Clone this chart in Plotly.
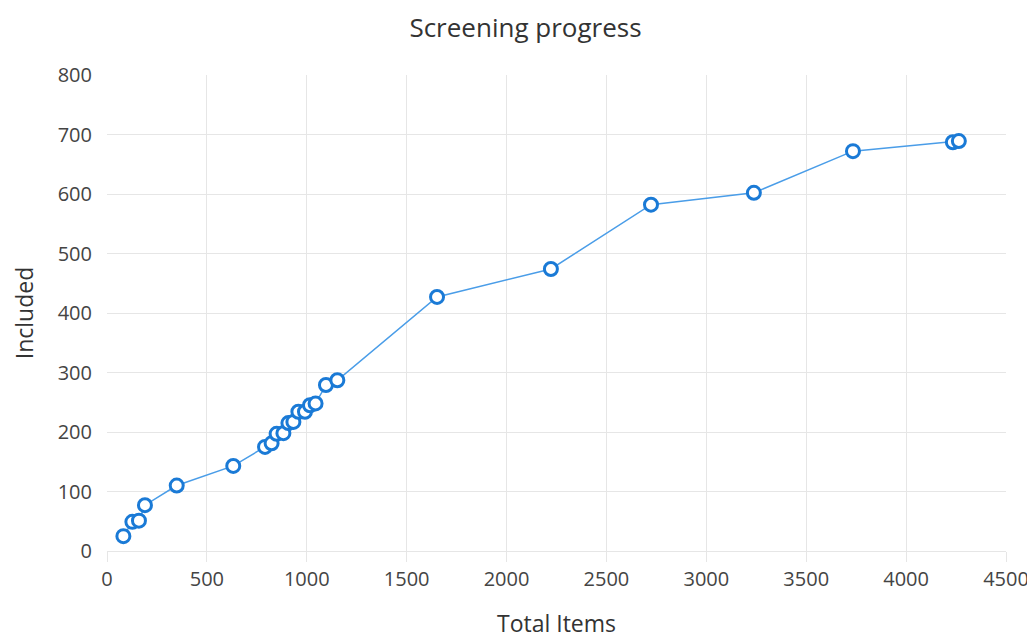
import plotly.graph_objects as go

total_items = [82, 127, 160, 190, 349, 632, 791, 824, 849, 883, 908, 933, 958, 991, 1016, 1044,
               1096, 1153, 1652, 2222, 2723, 3238, 3734, 4234, 4264]
included = [25, 49, 51, 77, 110, 143, 175, 181, 197, 198, 215, 217, 234, 234, 245, 248,
            279, 287, 427, 474, 582, 602, 672, 687, 689]

FONT = "Open Sans, Noto Sans, sans-serif"

fig = go.Figure(go.Scatter(
    x=total_items, y=included, mode="lines+markers",
    line=dict(color="#4a9de8", width=1.5),
    marker=dict(size=13, color="white", line=dict(color="#1a7ad6", width=3)),
    hoverinfo="x+y",
))

fig.update_layout(
    width=1035, height=637,
    margin=dict(l=99, r=37, t=67, b=94),
    paper_bgcolor="white", plot_bgcolor="white",
    title=dict(text="Screening progress", x=0.5, xanchor="center", y=1 - 20 / 637, yanchor="middle",
               font=dict(family=FONT, size=26, color="#333333")),
    font=dict(family=FONT, color="#444444", size=20),
    showlegend=False,
)
fig.update_xaxes(range=[0, 4500], dtick=500, showgrid=True, gridcolor="#e6e6e6", zeroline=False,
                 showline=True, linecolor="#e6e6e6", ticks="outside", ticklen=10, tickcolor="#e6e6e6",
                 title=dict(text="Total Items", font=dict(size=23, color="#333333"), standoff=24),
                 tickfont=dict(size=20))
fig.update_yaxes(range=[0, 800], dtick=100, showgrid=True, gridcolor="#e6e6e6", zeroline=False,
                 showline=False, ticks="outside", ticklen=10, tickcolor="white",
                 title=dict(text="Included", font=dict(size=23, color="#333333"), standoff=20),
                 tickfont=dict(size=20))

fig.write_html("out.html")
